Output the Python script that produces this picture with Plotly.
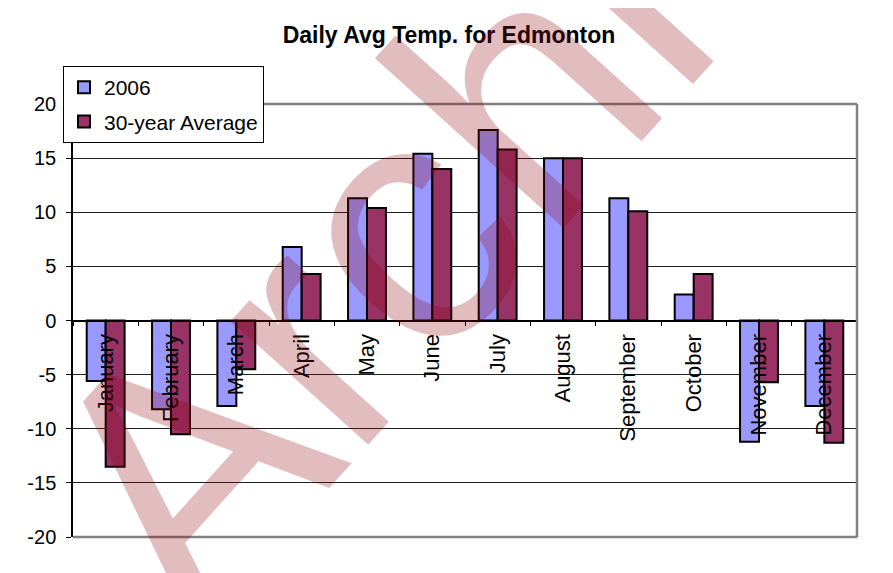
import plotly.graph_objects as go

# Datos
meses = ['January', 'February', 'March', 'April', 'May', 'June',
         'July', 'August', 'September', 'October', 'November', 'December']
temp_2006 = [-5.6, -8.2, -7.9, 6.8, 11.3, 15.4, 17.6, 15.0, 11.3, 2.4, -11.2, -7.9]
temp_30 = [-13.5, -10.5, -4.5, 4.3, 10.4, 14.0, 15.8, 15.0, 10.1, 4.3, -5.7, -11.3]
y_ticks = [-20, -15, -10, -5, 0, 5, 10, 15, 20]

# la pagina deja 8 px de margen al cuerpo: la figura empieza en (8, 8)
OFF = 8
W, H = 893 - OFF, 573 - OFF
L, R, T, B = 73 - OFF, 857 - OFF, 104 - OFF, 537 - OFF
FUENTE = 'Liberation Sans, Arial, sans-serif'


def px_x(x):
    # x en pixeles de la pagina -> fraccion del papel
    return (x - OFF - L) / (R - L)


def px_y(y):
    return (B - (y - OFF)) / (B - T)


fig = go.Figure()

fig.add_trace(go.Bar(
    x=meses, y=temp_2006, name='2006',
    marker=dict(color='#9999FF', line=dict(color='black', width=2)),
    legendgroup='a'
))
fig.add_trace(go.Bar(
    x=meses, y=temp_30, name='30-year Average',
    marker=dict(color='#993366', line=dict(color='black', width=2)),
    legendgroup='b'
))

# Marco de la imagen y borde del area de trazado
shapes = [
    dict(type='line', xref='paper', yref='paper',
         x0=px_x(892), x1=px_x(892), y0=px_y(573), y1=px_y(OFF),
         line=dict(color='#C0C0C0', width=1), layer='above'),
    dict(type='line', xref='paper', yref='paper',
         x0=0, x1=1, y0=1, y1=1, line=dict(color='#808080', width=2.5)),
    dict(type='line', xref='paper', yref='paper',
         x0=1, x1=1, y0=0, y1=1, line=dict(color='#808080', width=2.5)),
    dict(type='line', xref='paper', yref='paper',
         x0=0, x1=1, y0=0, y1=0, line=dict(color='#808080', width=2.5)),
]

fig.update_layout(
    width=W, height=H,
    margin=dict(l=L, r=W - R, t=T, b=H - B, pad=0, autoexpand=False),
    paper_bgcolor='white', plot_bgcolor='white',
    font=dict(family=FUENTE, color='black'),
    title=dict(text='<b>Daily Avg Temp. for Edmonton</b>',
               x=px_x(449), xref='paper', xanchor='center',
               y=1 - (35 - OFF) / H, yref='container', yanchor='middle',
               font=dict(size=23, color='black')),
    barmode='group', bargap=0.42, bargroupgap=0,
    showlegend=True,
    legend=dict(x=px_x(63), y=px_y(66), xanchor='left', yanchor='top',
                bgcolor='white', bordercolor='black', borderwidth=1,
                font=dict(size=21), traceorder='grouped', tracegroupgap=4,
                itemwidth=30),
    xaxis=dict(anchor='free', position=0.5, showline=True, linecolor='black',
               linewidth=1.5, ticks='outside', tickson='boundaries', ticklen=5,
               tickcolor='black', tickangle=-90, tickfont=dict(size=22),
               showgrid=False, ticklabelstandoff=4),
    yaxis=dict(range=[-20, 20], tickvals=y_ticks,
               ticktext=[str(v) for v in y_ticks], showline=True,
               linecolor='black', linewidth=1.5, ticks='outside', ticklen=5,
               tickcolor='black', tickfont=dict(size=20), showgrid=True,
               gridcolor='#202020', gridwidth=1, zeroline=False,
               ticklabelstandoff=6),
    shapes=shapes,
    annotations=[dict(
        text='Archive', xref='paper', yref='paper',
        x=px_x(496), y=px_y(122), xanchor='center', yanchor='middle',
        showarrow=False, textangle=-48,
        font=dict(family=FUENTE, size=350, color='rgba(140,0,10,0.26)')
    )]
)

fig.write_html('out.html')
